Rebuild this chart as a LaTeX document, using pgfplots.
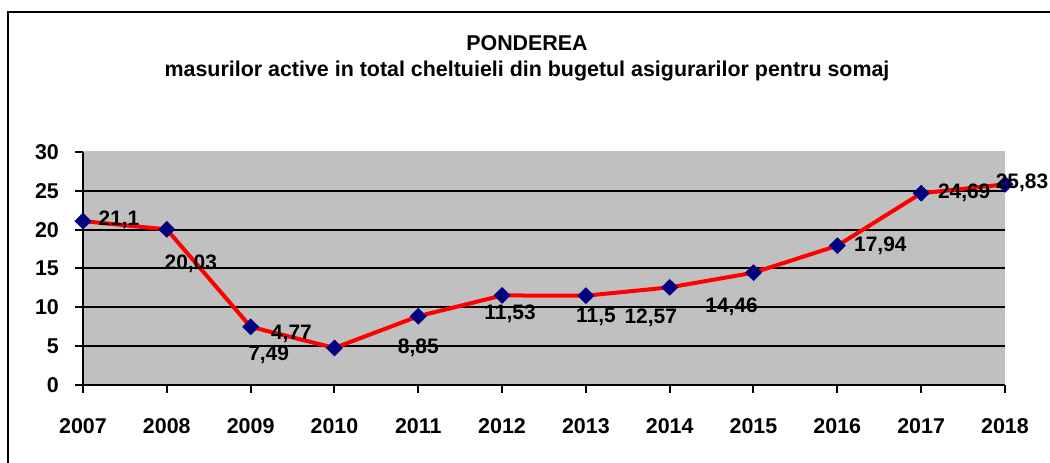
\documentclass[border=0pt]{standalone}
\usepackage{pgfplots}
\usepackage{pgfplotstable}
\pgfplotsset{compat=1.18}
\usepackage{fontspec}
\setmainfont{Liberation Sans}
\definecolor{navyc}{RGB}{0,0,128}
\definecolor{plotgray}{RGB}{192,192,192}
\pgfplotstableread{
year val lab dx dy
2007 21.1 21,1 36 1
2008 20.03 20,03 24 -34
2009 7.49 7,49 18 -28
2010 4.77 4,77 -43 14
2011 8.85 8,85 0 -32
2012 11.53 11,53 8 -18
2013 11.5 11,5 10 -21
2014 12.57 12,57 -19 -30
2015 14.46 14,46 -22 -34
2016 17.94 17,94 43 0
2017 24.69 24,69 43 0
2018 25.83 25,83 17 2
}\datatable
\begin{document}
\begin{tikzpicture}[x=1bp,y=1bp]
\useasboundingbox (0,0) rectangle (1050,463);
\draw[line width=2bp] (8,-20) -- (8,451) -- (1070,451);
\node[font=\bfseries\fontsize{21.5}{24}\selectfont] at (527,420) {PONDEREA};
\node[font=\bfseries\fontsize{21.5}{24}\selectfont] at (527,392) {masurilor active in total cheltuieli din bugetul asigurarilor pentru somaj};
\begin{axis}[
  at={(83bp,78bp)}, anchor=south west,
  width=922bp, height=233bp, scale only axis,
  xmin=2007, xmax=2018, ymin=0, ymax=30,
  enlargelimits=false, clip=false,
  axis x line*=bottom, axis y line*=left,
  axis line style={black, line width=2bp},
  axis background/.style={fill=plotgray},
  xtick={2007,...,2018}, ytick={0,5,...,30},
  tick align=outside, major tick length=8bp,
  tick style={black, line width=2bp},
  /pgf/number format/assume math mode=true,
  /pgf/number format/1000 sep={},
  xticklabel style={font=\bfseries\fontsize{21.5}{24}\selectfont, anchor=center, yshift=-33bp, inner sep=0pt},
  yticklabel style={font=\bfseries\fontsize{21.5}{24}\selectfont, anchor=east, xshift=-16bp, inner sep=0pt},
  extra y ticks={5,10,15,20,25},
  extra y tick labels={},
  extra y tick style={ymajorgrids=true, major tick length=0pt},
  major grid style={black, line width=2bp},
]
\draw[black!25, line width=1bp] (rel axis cs:0,1) -- (rel axis cs:1,1);
\addplot[red, line width=4bp, mark=diamond*,
  mark options={fill=navyc, draw=navyc, line width=0.5bp, xscale=1.35},
  mark size=8bp,
  point meta=explicit symbolic,
  visualization depends on={\thisrow{dx} \as \dx},
  visualization depends on={\thisrow{dy} \as \dy},
  nodes near coords,
  every node near coord/.style={anchor=center, inner sep=0pt, xshift=\dx bp, yshift=\dy bp, font=\bfseries\fontsize{21}{24}\selectfont, text=black},
] table[x=year, y=val, meta=lab] {\datatable};
\end{axis}
\end{tikzpicture}
\end{document}
